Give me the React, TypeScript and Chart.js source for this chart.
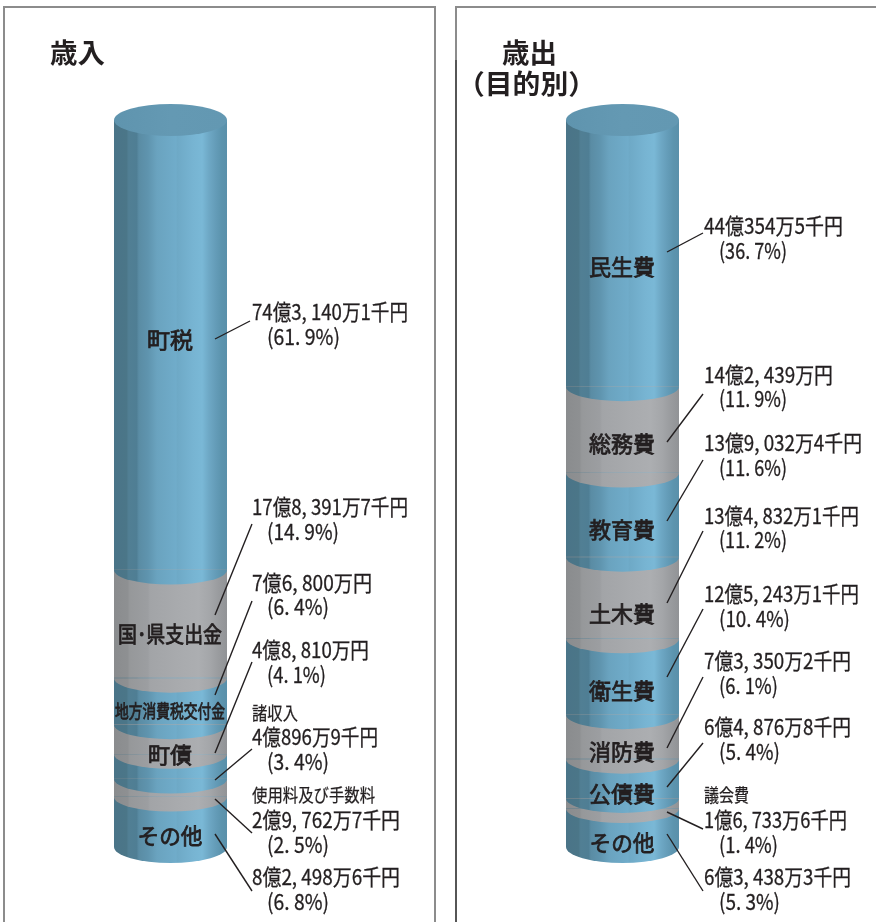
import React, { useEffect, useRef } from "react";
import { Chart, registerables } from "chart.js";

Chart.register(...registerables);

// ---------- data (top of stack first, values in 万円) ----------
const revenueCategories = ["町税", "国･県支出金", "地方消費税交付金", "町債", "諸収入", "使用料及び手数料", "その他"];
const revenueValues = [743140.1, 178391.7, 76800, 48810, 40896.9, 29762.7, 82498.6];
const revenueAmounts = ["74億3, 140万1千円", "17億8, 391万7千円", "7億6, 800万円", "4億8, 810万円", "4億896万9千円", "2億9, 762万7千円", "8億2, 498万6千円"];
const revenuePercents = ["(61. 9%)", "(14. 9%)", "(6. 4%)", "(4. 1%)", "(3. 4%)", "(2. 5%)", "(6. 8%)"];

const spendingCategories = ["民生費", "総務費", "教育費", "土木費", "衛生費", "消防費", "公債費", "議会費", "その他"];
const spendingValues = [440354.5, 142439, 139032.4, 134832.1, 125243.1, 73350.2, 64876.8, 16733.6, 63438.3];
const spendingAmounts = ["44億354万5千円", "14億2, 439万円", "13億9, 032万4千円", "13億4, 832万1千円", "12億5, 243万1千円", "7億3, 350万2千円", "6億4, 876万8千円", "1億6, 733万6千円", "6億3, 438万3千円"];
const spendingPercents = ["(36. 7%)", "(11. 9%)", "(11. 6%)", "(11. 2%)", "(10. 4%)", "(6. 1%)", "(5. 4%)", "(1. 4%)", "(5. 3%)"];

// ---------- annotation layout (not data) ----------
type Note = {
  inner?: { y: number; w: number; size?: number };
  head?: { y: number; w: number };
  amountY: number; amountW: number; pctY: number; pctW: number;
  line: [number, number, number, number];
};

const revenueNotes: Note[] = [
  { inner: { y: 340, w: 46 }, amountY: 312, amountW: 156, pctY: 337, pctW: 73, line: [215, 339, 250, 321] },
  { inner: { y: 634, w: 104 }, amountY: 507, amountW: 156, pctY: 532, pctW: 72, line: [215, 615, 252, 524] },
  { inner: { y: 711, w: 110, size: 18 }, amountY: 583, amountW: 120, pctY: 607, pctW: 62, line: [215, 695, 252, 601] },
  { inner: { y: 755, w: 44 }, amountY: 650, amountW: 117, pctY: 675, pctW: 59, line: [215, 753, 252, 662] },
  { head: { y: 713, w: 46 }, amountY: 737, amountW: 126, pctY: 762, pctW: 62, line: [215, 780, 252, 749] },
  { head: { y: 795, w: 123 }, amountY: 820, amountW: 148, pctY: 845, pctW: 62, line: [215, 799, 252, 833] },
  { inner: { y: 836, w: 65 }, amountY: 877, amountW: 148, pctY: 902, pctW: 62, line: [215, 834, 252, 891] },
];

const spendingNotes: Note[] = [
  { inner: { y: 267, w: 66 }, amountY: 226, amountW: 139, pctY: 251, pctW: 68, line: [667, 252, 703, 233] },
  { inner: { y: 444, w: 66 }, amountY: 375, amountW: 129, pctY: 399, pctW: 68, line: [667, 442, 703, 394] },
  { inner: { y: 530, w: 66 }, amountY: 443, amountW: 158, pctY: 468, pctW: 68, line: [667, 521, 703, 460] },
  { inner: { y: 614, w: 66 }, amountY: 516, amountW: 155, pctY: 540, pctW: 68, line: [667, 603, 703, 531] },
  { inner: { y: 691, w: 66 }, amountY: 594, amountW: 155, pctY: 619, pctW: 71, line: [667, 677, 703, 609] },
  { inner: { y: 752, w: 66 }, amountY: 661, amountW: 147, pctY: 686, pctW: 59, line: [667, 748, 703, 677] },
  { inner: { y: 794, w: 66 }, amountY: 727, amountW: 147, pctY: 752, pctW: 61, line: [667, 787, 703, 743] },
  { head: { y: 795, w: 45 }, amountY: 820, amountW: 143, pctY: 845, pctW: 59, line: [667, 812, 703, 829] },
  { inner: { y: 843, w: 65 }, amountY: 877, amountW: 147, pctY: 902, pctW: 61, line: [667, 834, 703, 891] },
];

const FONT = '"Noto Sans CJK JP", "Noto Sans", sans-serif';
const INK = "#231f20";

const BLUE_STOPS: [number, string][] = [
  [0, "#4a7488"], [0.11, "#4b7688"], [0.13, "#517f94"], [0.2, "#4f7e94"], [0.22, "#5a8ca4"],
  [0.3, "#5f94ae"], [0.38, "#6aa3bf"], [0.55, "#70acca"], [0.56, "#6ea9c6"], [0.7, "#77b4d2"],
  [0.78, "#7ab8d6"], [0.84, "#6ea8c5"], [0.9, "#649cb8"], [0.95, "#5c94ae"], [1, "#5a90aa"],
];
const GRAY_STOPS: [number, string][] = [
  [0, "#8a8c8e"], [0.12, "#8e9092"], [0.14, "#96989a"], [0.3, "#9c9ea1"], [0.32, "#a2a4a7"],
  [0.55, "#a8aaad"], [0.75, "#acaeb1"], [0.85, "#a4a6a9"], [0.93, "#999b9e"], [1, "#919396"],
];

function makeFill(ctx: CanvasRenderingContext2D, left: number, right: number, stops: [number, string][]) {
  const g = ctx.createLinearGradient(left, 0, right, 0);
  stops.forEach(([o, c]) => g.addColorStop(o, c));
  return g;
}

function drawText(ctx: CanvasRenderingContext2D, s: string, x: number, y: number, w: number, font: string, align: CanvasTextAlign = "left", heavy = 0) {
  ctx.font = font;
  ctx.textAlign = align;
  ctx.textBaseline = "middle";
  ctx.fillStyle = INK;
  const natural = ctx.measureText(s).width;
  ctx.save();
  ctx.translate(x, y);
  ctx.scale(w / natural, 1);
  ctx.fillText(s, 0, 0);
  if (heavy > 0) {
    ctx.strokeStyle = INK;
    ctx.lineWidth = heavy;
    ctx.strokeText(s, 0, 0);
  }
  ctx.restore();
}

function buildChart(
  canvas: HTMLCanvasElement,
  cfg: {
    name: string; left: number; right: number;
    categories: string[]; values: number[]; amounts: string[]; percents: string[]; notes: Note[];
    titles: { text: string; x: number; y: number; w: number }[];
  },
) {
  const W = 876, H = 922, TOP = 120, BOTTOM = 847;
  const total = cfg.values.reduce((a, b) => a + b, 0);
  const n = cfg.values.length;
  const order = cfg.values.map((_, i) => n - 1 - i); // bottom of the stack first

  const cylinder = {
    id: "cylinder",
    afterDatasetsDraw(chart: any) {
      const ctx: CanvasRenderingContext2D = chart.ctx;
      order.forEach((srcIdx, dsIdx) => {
        const el = chart.getDatasetMeta(dsIdx).data[0];
        const fill = makeFill(ctx, el.x - el.width / 2, el.x + el.width / 2, srcIdx % 2 === 0 ? BLUE_STOPS : GRAY_STOPS);
        ctx.fillStyle = fill;
        ctx.beginPath();
        ctx.ellipse(el.x, el.base, el.width / 2, dsIdx === 0 ? 16 : 14.5, 0, 0, Math.PI);
        ctx.closePath();
        ctx.fill();
      });
      const top = chart.getDatasetMeta(n - 1).data[0];
      const lid = makeFill(ctx, top.x - top.width / 2, top.x + top.width / 2, [[0, "#5f94ae"], [0.5, "#6499b3"], [1, "#6398b2"]]);
      ctx.fillStyle = lid;
      ctx.beginPath();
      ctx.ellipse(top.x, top.y, top.width / 2, 16, 0, 0, Math.PI * 2);
      ctx.fill();
    },
  };

  const annotate = {
    id: "annotate",
    afterDraw(chart: any) {
      const ctx: CanvasRenderingContext2D = chart.ctx;
      const cx = (chart.chartArea.left + chart.chartArea.right) / 2 - 0.5;
      const labelX = cfg.name === "revenue" ? 252 : 704;
      // panel frame
      ctx.strokeStyle = "#8c8c8c";
      ctx.lineWidth = 2;
      ctx.beginPath();
      if (cfg.name === "revenue") {
        ctx.moveTo(4, H); ctx.lineTo(4, 7); ctx.lineTo(435, 7); ctx.lineTo(435, H);
      } else {
        ctx.moveTo(456, H); ctx.lineTo(456, 7); ctx.lineTo(W, 7);
      }
      ctx.stroke();
      if (cfg.name === "spending") {
        ctx.strokeStyle = "#333";
        ctx.lineWidth = 1.2;
        ctx.beginPath(); ctx.moveTo(456, 60); ctx.lineTo(456, H); ctx.stroke();
      }
      cfg.titles.forEach((t) => drawText(ctx, t.text, t.x, t.y, t.w, `700 27px ${FONT}`));
      cfg.notes.forEach((note, i) => {
        const cat = cfg.categories[i];
        if (note.inner) drawText(ctx, cat, cx, note.inner.y, note.inner.w, `400 ${note.inner.size ?? 22}px ${FONT}`, "center", 0.8);
        if (note.head) drawText(ctx, cat, labelX, note.head.y, note.head.w, `400 18px ${FONT}`, "left", 0.25);
        drawText(ctx, cfg.amounts[i], labelX, note.amountY, note.amountW, `400 22px ${FONT}`, "left", 0.3);
        drawText(ctx, cfg.percents[i], labelX + 15, note.pctY, note.pctW, `400 22px ${FONT}`, "left", 0.3);
        ctx.strokeStyle = "#231f20";
        ctx.lineWidth = 1.4;
        ctx.beginPath();
        ctx.moveTo(note.line[0], note.line[1]);
        ctx.lineTo(note.line[2], note.line[3]);
        ctx.stroke();
      });
    },
  };

  const c2d = canvas.getContext("2d") as CanvasRenderingContext2D;
  return new Chart(canvas, {
    type: "bar",
    data: {
      labels: [cfg.name],
      datasets: order.map((srcIdx) => ({
        label: cfg.categories[srcIdx],
        data: [cfg.values[srcIdx]],
        backgroundColor: makeFill(c2d, cfg.left, cfg.right, srcIdx % 2 === 0 ? BLUE_STOPS : GRAY_STOPS),
        borderWidth: 0,
        barPercentage: 1,
        categoryPercentage: 1,
      })),
    },
    options: {
      responsive: false,
      animation: false,
      devicePixelRatio: 1,
      layout: { padding: { left: cfg.left, right: W - cfg.right, top: TOP, bottom: H - BOTTOM } },
      plugins: { legend: { display: false }, tooltip: { enabled: false }, title: { display: false } },
      scales: {
        x: { stacked: true, display: false },
        y: { stacked: true, display: false, min: 0, max: total },
      },
    },
    plugins: [cylinder, annotate],
  } as any);
}

export default function App() {
  const leftRef = useRef<HTMLCanvasElement>(null);
  const rightRef = useRef<HTMLCanvasElement>(null);

  useEffect(() => {
    const a = buildChart(leftRef.current as HTMLCanvasElement, {
      name: "revenue", left: 114, right: 227,
      categories: revenueCategories, values: revenueValues, amounts: revenueAmounts, percents: revenuePercents, notes: revenueNotes,
      titles: [{ text: "歳入", x: 50, y: 53, w: 55 }],
    });
    const b = buildChart(rightRef.current as HTMLCanvasElement, {
      name: "spending", left: 566, right: 679,
      categories: spendingCategories, values: spendingValues, amounts: spendingAmounts, percents: spendingPercents, notes: spendingNotes,
      titles: [
        { text: "歳出", x: 502, y: 53, w: 55 },
        { text: "（目的別）", x: 457, y: 84, w: 139 },
      ],
    });
    return () => { a.destroy(); b.destroy(); };
  }, []);

  const style: React.CSSProperties = { position: "absolute", left: 0, top: 0, display: "block" };
  return (
    <div style={{ position: "absolute", left: 0, top: 0, width: 876, height: 922, overflow: "hidden", background: "#fff" }}>
      <canvas ref={leftRef} width={876} height={922} style={style} />
      <canvas ref={rightRef} width={876} height={922} style={style} />
    </div>
  );
}
